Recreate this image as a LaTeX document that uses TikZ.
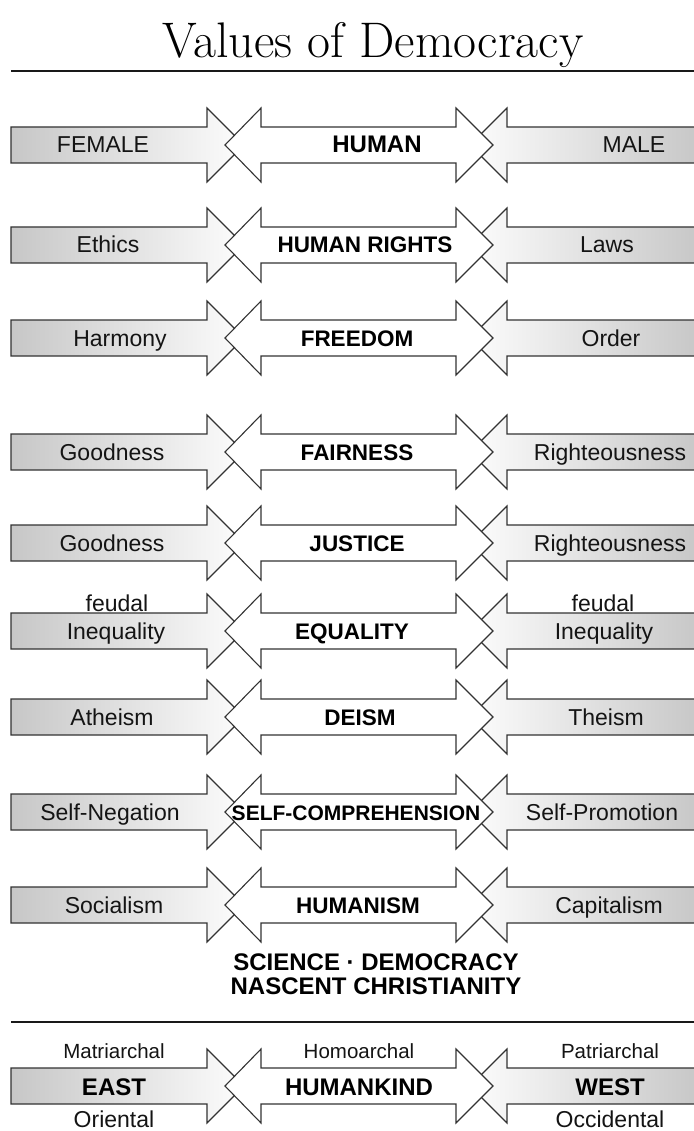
\documentclass[tikz,border=0pt]{standalone}
\usepackage{fontspec}
\newfontfamily\hv{Liberation Sans}
\newfontfamily\titlefont{Latin Modern Roman}
\tikzset{
  outl/.style={draw=black!80, line width=1.1pt, line join=miter},
  lshade/.style={outl, left color=black!22, right color=black!1},
  rshade/.style={outl, left color=black!1, right color=black!22},
  cfill/.style={outl, fill=white},
  lab/.style={anchor=base, inner sep=0pt, text=black!92, font=\hv\fontsize{23}{23}\selectfont},
  blab/.style={anchor=base, inner sep=0pt, text=black, font=\hv\bfseries\fontsize{22.5}{22}\selectfont},
  small/.style={anchor=base, inner sep=0pt, text=black!92, font=\hv\fontsize{20.5}{20}\selectfont},
  bigb/.style={anchor=base, inner sep=0pt, text=black, font=\hv\bfseries\fontsize{24}{24}\selectfont},
  rule/.style={draw=black!90, line width=1.5pt}
}
% #1 y centre
\newcommand\arrowtriple[1]{%
  \path[lshade] (11,#1-18) -- (207,#1-18) -- (207,#1-37) -- (244,#1) -- (207,#1+37) -- (207,#1+18) -- (11,#1+18) -- cycle;
  \path[rshade] (700,#1-18) -- (507,#1-18) -- (507,#1-37) -- (470,#1) -- (507,#1+37) -- (507,#1+18) -- (700,#1+18) -- cycle;
  \path[cfill] (225,#1) -- (261,#1-37) -- (261,#1-18) -- (456,#1-18) -- (456,#1-37) -- (493,#1) -- (456,#1+37) -- (456,#1+18) -- (261,#1+18) -- (261,#1+37) -- cycle;
}
% #1 y, #2 name, #3 left x, #4 left text, #5 centre x, #6 centre text, #7 right x, #8 right text
\newcommand\valrow[8]{%
  \arrowtriple{#1}
  \node[lab]  (#2l) at (#3,#1+8) {#4};
  \node[blab] (#2c) at (#5,#1+8) {#6};
  \node[lab]  (#2r) at (#7,#1+8) {#8};
}
\begin{document}
\begin{tikzpicture}[x=1pt,y=-1pt]
\useasboundingbox (0,0) rectangle (693,1131);
\fill[white] (0,0) rectangle (693,1131);
% title
\node[anchor=base, inner sep=0pt, font=\titlefont\fontsize{50}{50}\selectfont] (title) at (373,58) {Values of Democracy};
\coordinate (tl) at (11,71);
\coordinate (tr) at (700,71);
\draw[rule] (tl) -- (tr);

\valrow{145}{r1}{103}{FEMALE}{377}{\fontsize{24}{24}\selectfont HUMAN}{634}{MALE}
\valrow{245}{r2}{108}{Ethics}{365}{HUMAN RIGHTS}{607}{Laws}
\valrow{338}{r3}{120}{Harmony}{357}{FREEDOM}{611}{Order}
\valrow{452}{r4}{112}{Goodness}{357}{FAIRNESS}{610}{Righteousness}
\valrow{543}{r5}{112}{Goodness}{357}{JUSTICE}{610}{Righteousness}
\valrow{631}{r6}{116}{Inequality}{352}{EQUALITY}{604}{Inequality}
\node[lab] (r6lf) at (117,611) {feudal};
\node[lab] (r6rf) at (603,611) {feudal};
\valrow{717}{r7}{112}{Atheism}{360}{DEISM}{606}{Theism}
\valrow{812}{r8}{110}{Self-Negation}{356}{\fontsize{21}{21}\selectfont SELF-COMPREHENSION}{602}{Self-Promotion}
\valrow{905}{r9}{114}{Socialism}{358}{HUMANISM}{609}{Capitalism}

\node[bigb] (sci) at (376,970) {SCIENCE · DEMOCRACY};
\node[bigb] (nas) at (376,994) {NASCENT CHRISTIANITY};

\coordinate (bl) at (11,1022);
\coordinate (br) at (700,1022);
\draw[rule] (bl) -- (br);

\arrowtriple{1086}
\node[small] (matr) at (114,1058) {Matriarchal};
\node[small] (homo) at (359,1058) {Homoarchal};
\node[small] (patr) at (610,1058) {Patriarchal};
\node[bigb] (east) at (114,1095) {EAST};
\node[bigb] (hk) at (359,1095) {HUMANKIND};
\node[bigb] (west) at (610,1095) {WEST};
\node[lab] (orie) at (114,1127) {Oriental};
\node[lab] (occi) at (610,1127) {Occidental};
\end{tikzpicture}
\end{document}
